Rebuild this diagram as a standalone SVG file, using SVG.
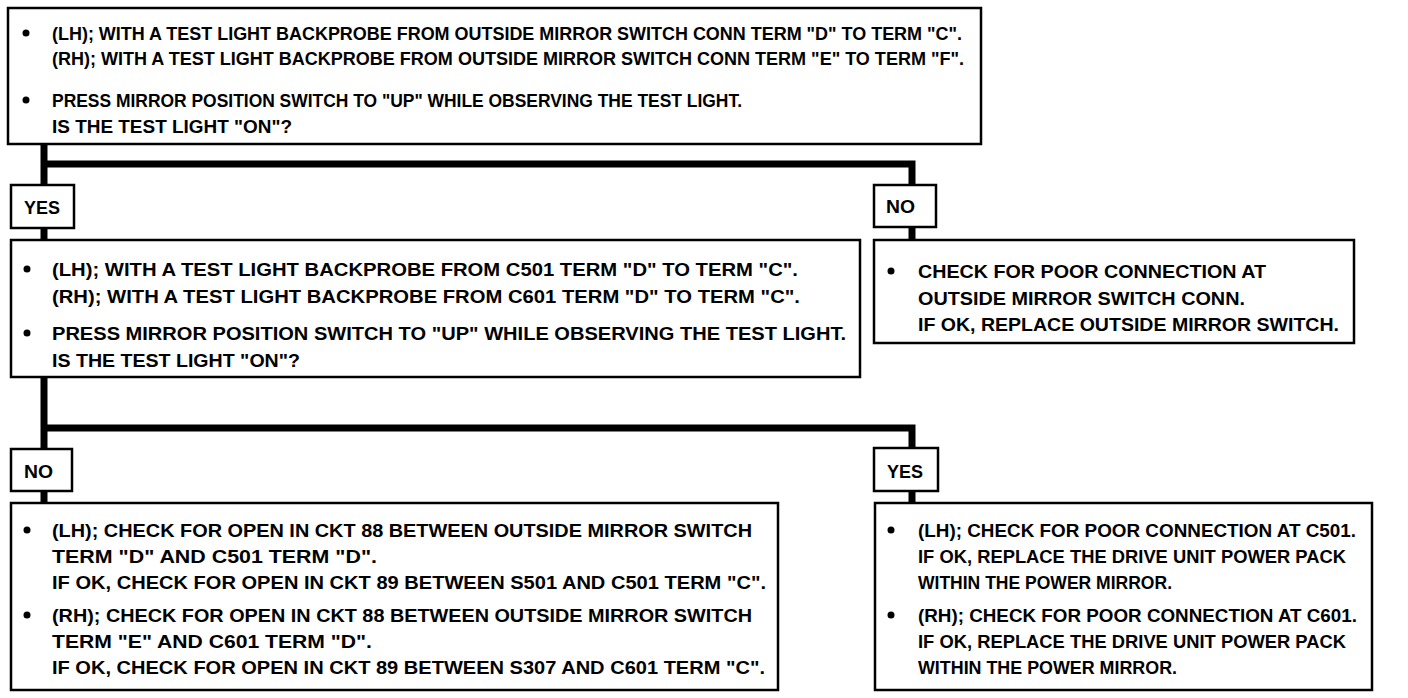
<svg xmlns="http://www.w3.org/2000/svg" width="1408" height="698" viewBox="0 0 1408 698">
<style>
.box{fill:#fff;stroke:#000;stroke-width:2.5}
.lbl{fill:#fff;stroke:#000;stroke-width:2.5}
.t{font-family:"Liberation Sans",Arial,sans-serif;font-weight:bold;font-size:19px;fill:#000}
.lt{font-family:"Liberation Sans",Arial,sans-serif;font-weight:bold;font-size:19px;fill:#000}
.conn{fill:none;stroke:#000;stroke-width:7;stroke-linejoin:miter;stroke-linecap:butt}
.dot{fill:#000}
</style>
<rect width="1408" height="698" fill="#fff"/>
<g id="connectors">
<path class="conn" d="M44,144 V184 M44,164 H912 V185"/>
<path class="conn" d="M44,228 V241"/>
<path class="conn" d="M912,227 V241"/>
<path class="conn" d="M44,377 V449 M44,428 H912 V448"/>
<path class="conn" d="M44,491 V504"/>
<path class="conn" d="M912,491 V504"/>
</g>
<g id="q1">
<rect class="box" x="8" y="8" width="973" height="136"/>
<circle class="dot" cx="26" cy="33" r="3.5"/>
<text class="t" x="52" y="40" textLength="910" lengthAdjust="spacingAndGlyphs">(LH); WITH A TEST LIGHT BACKPROBE FROM OUTSIDE MIRROR SWITCH CONN TERM "D" TO TERM "C".</text>
<text class="t" x="52" y="65" textLength="912" lengthAdjust="spacingAndGlyphs">(RH); WITH A TEST LIGHT BACKPROBE FROM OUTSIDE MIRROR SWITCH CONN TERM "E" TO TERM "F".</text>
<circle class="dot" cx="26" cy="100" r="3.5"/>
<text class="t" x="52" y="107" textLength="690" lengthAdjust="spacingAndGlyphs">PRESS MIRROR  POSITION SWITCH TO "UP" WHILE OBSERVING THE TEST LIGHT.</text>
<text class="t" x="52" y="133" textLength="240" lengthAdjust="spacingAndGlyphs">IS THE TEST LIGHT "ON"?</text>
</g>
<g id="yes1">
<rect class="lbl" x="11" y="185" width="63" height="43"/>
<text class="lt" x="24" y="214" textLength="36" lengthAdjust="spacingAndGlyphs">YES</text>
</g>
<g id="no1">
<rect class="lbl" x="874" y="185" width="62" height="42"/>
<text class="lt" x="886" y="213" textLength="29" lengthAdjust="spacingAndGlyphs">NO</text>
</g>
<g id="q2">
<rect class="box" x="11" y="240" width="849" height="137"/>
<circle class="dot" cx="27" cy="269" r="3.5"/>
<text class="t" x="52" y="276" textLength="746" lengthAdjust="spacingAndGlyphs">(LH); WITH A TEST LIGHT BACKPROBE FROM C501 TERM "D" TO TERM "C".</text>
<text class="t" x="52" y="303" textLength="748" lengthAdjust="spacingAndGlyphs">(RH); WITH A TEST LIGHT BACKPROBE FROM C601 TERM "D" TO TERM "C".</text>
<circle class="dot" cx="27" cy="333" r="3.5"/>
<text class="t" x="52" y="340" textLength="794" lengthAdjust="spacingAndGlyphs">PRESS MIRROR  POSITION SWITCH TO "UP" WHILE OBSERVING THE TEST LIGHT.</text>
<text class="t" x="52" y="367" textLength="248" lengthAdjust="spacingAndGlyphs">IS THE TEST LIGHT "ON"?</text>
</g>
<g id="a1">
<rect class="box" x="874" y="240" width="480" height="103"/>
<circle class="dot" cx="891" cy="271" r="3.5"/>
<text class="t" x="918" y="278" textLength="348" lengthAdjust="spacingAndGlyphs">CHECK FOR POOR CONNECTION AT</text>
<text class="t" x="918" y="305" textLength="327" lengthAdjust="spacingAndGlyphs">OUTSIDE MIRROR SWITCH CONN.</text>
<text class="t" x="918" y="331" textLength="421" lengthAdjust="spacingAndGlyphs">IF OK, REPLACE OUTSIDE MIRROR SWITCH.</text>
</g>
<g id="no2">
<rect class="lbl" x="11" y="449" width="61" height="42"/>
<text class="lt" x="24" y="478" textLength="29" lengthAdjust="spacingAndGlyphs">NO</text>
</g>
<g id="yes2">
<rect class="lbl" x="874" y="448" width="64" height="43"/>
<text class="lt" x="887" y="478" textLength="36" lengthAdjust="spacingAndGlyphs">YES</text>
</g>
<g id="a2">
<rect class="box" x="11" y="503" width="767" height="187"/>
<circle class="dot" cx="27" cy="530" r="3.5"/>
<text class="t" x="52" y="537" textLength="700" lengthAdjust="spacingAndGlyphs">(LH); CHECK FOR OPEN IN CKT 88 BETWEEN OUTSIDE MIRROR SWITCH</text>
<text class="t" x="52" y="563" textLength="325" lengthAdjust="spacingAndGlyphs">TERM "D" AND C501 TERM "D".</text>
<text class="t" x="52" y="589" textLength="714" lengthAdjust="spacingAndGlyphs">IF OK, CHECK FOR OPEN IN CKT 89 BETWEEN S501 AND C501 TERM "C".</text>
<circle class="dot" cx="27" cy="615" r="3.5"/>
<text class="t" x="52" y="622" textLength="700" lengthAdjust="spacingAndGlyphs">(RH); CHECK FOR OPEN IN CKT 88 BETWEEN OUTSIDE MIRROR SWITCH</text>
<text class="t" x="52" y="648" textLength="320" lengthAdjust="spacingAndGlyphs">TERM "E" AND C601 TERM "D".</text>
<text class="t" x="52" y="674" textLength="713" lengthAdjust="spacingAndGlyphs">IF OK, CHECK FOR OPEN IN CKT 89 BETWEEN S307 AND C601 TERM "C".</text>
</g>
<g id="a3">
<rect class="box" x="875" y="503" width="497" height="187"/>
<circle class="dot" cx="891" cy="530" r="3.5"/>
<text class="t" x="918" y="537" textLength="438" lengthAdjust="spacingAndGlyphs">(LH); CHECK FOR POOR CONNECTION AT C501.</text>
<text class="t" x="918" y="563" textLength="428" lengthAdjust="spacingAndGlyphs">IF OK, REPLACE THE DRIVE UNIT POWER PACK</text>
<text class="t" x="918" y="589" textLength="254" lengthAdjust="spacingAndGlyphs">WITHIN THE POWER MIRROR.</text>
<circle class="dot" cx="891" cy="615" r="3.5"/>
<text class="t" x="918" y="622" textLength="439" lengthAdjust="spacingAndGlyphs">(RH); CHECK FOR POOR CONNECTION AT C601.</text>
<text class="t" x="918" y="648" textLength="428" lengthAdjust="spacingAndGlyphs">IF OK, REPLACE THE DRIVE UNIT POWER PACK</text>
<text class="t" x="918" y="674" textLength="259" lengthAdjust="spacingAndGlyphs">WITHIN THE POWER MIRROR.</text>
</g>
</svg>
